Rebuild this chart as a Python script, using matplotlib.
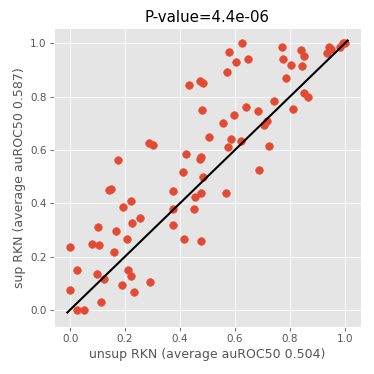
import matplotlib
matplotlib.use("Agg")
import matplotlib.pyplot as plt

plt.style.use("ggplot")

unsup = [0.433, 0.472, 0.484, 0.479, 0.555, 0.595, 0.639, 0.682, 0.707, 0.718,
         0.742, 0.811, 0.785, 0.775, 0.771, 0.803, 0.841, 0.851, 0.843, 0.851,
         0.866, 0.933, 0.943, 0.948, 0.982, 0.994, 1.000, 0.572, 0.579, 0.603,
         0.624, 0.647, 0.505, 0.586, 0.622, 0.574, 0.722, 0.288, 0.301, 0.175,
         0.421, 0.472, 0.476, 0.409, 0.483, 0.688, 0.142, 0.148, 0.373, 0.476,
         0.456, 0.569, 0.220, 0.194, 0.374, 0.450, 0.254, 0.227, 0.374, 0.103,
         0.166, 0.206, 0.416, 0.477, 0.000, 0.080, 0.104, 0.160, 0.027, 0.098,
         0.123, 0.210, 0.220, 0.189, 0.290, 0.232, 0.000, 0.114, 0.025, 0.049]
sup = [0.844, 0.859, 0.849, 0.750, 0.700, 0.731, 0.759, 0.746, 0.694, 0.707,
       0.783, 0.753, 0.871, 0.941, 0.985, 0.920, 0.974, 0.952, 0.916, 0.815,
       0.798, 0.965, 0.987, 0.980, 0.987, 1.000, 1.000, 0.894, 0.967, 0.931,
       1.000, 0.940, 0.650, 0.642, 0.635, 0.612, 0.615, 0.627, 0.620, 0.562,
       0.584, 0.567, 0.575, 0.516, 0.498, 0.524, 0.450, 0.454, 0.447, 0.438,
       0.424, 0.438, 0.408, 0.385, 0.378, 0.379, 0.344, 0.324, 0.320, 0.311,
       0.296, 0.266, 0.265, 0.260, 0.237, 0.246, 0.243, 0.216, 0.150, 0.135,
       0.115, 0.150, 0.126, 0.094, 0.104, 0.066, 0.076, 0.030, 0.000, 0.000]
diag = [-0.01, 1.01]

title = "P-value=4.4e-06"
xlabel = "unsup RKN (average auROC50 0.504)"
ylabel = "sup RKN (average auROC50 0.587)"

fig = plt.figure(figsize=(374 / 75, 374 / 75), dpi=75)
ax = fig.add_subplot(111)
fig.subplots_adjust(left=0.144, right=0.965, bottom=0.126, top=0.925)

ax.scatter(unsup, sup, s=55, color="#E24A33", zorder=2)
ax.plot(diag, diag, color="black", lw=2, zorder=3)

ax.set_xlim(-0.059, 1.058)
ax.set_ylim(-0.064, 1.057)
ax.set_xticks([0.0, 0.2, 0.4, 0.6, 0.8, 1.0])
ax.set_yticks([0.0, 0.2, 0.4, 0.6, 0.8, 1.0])
ax.set_title(title)
ax.set_xlabel(xlabel)
ax.set_ylabel(ylabel)

fig.savefig("out.png", dpi=75)
